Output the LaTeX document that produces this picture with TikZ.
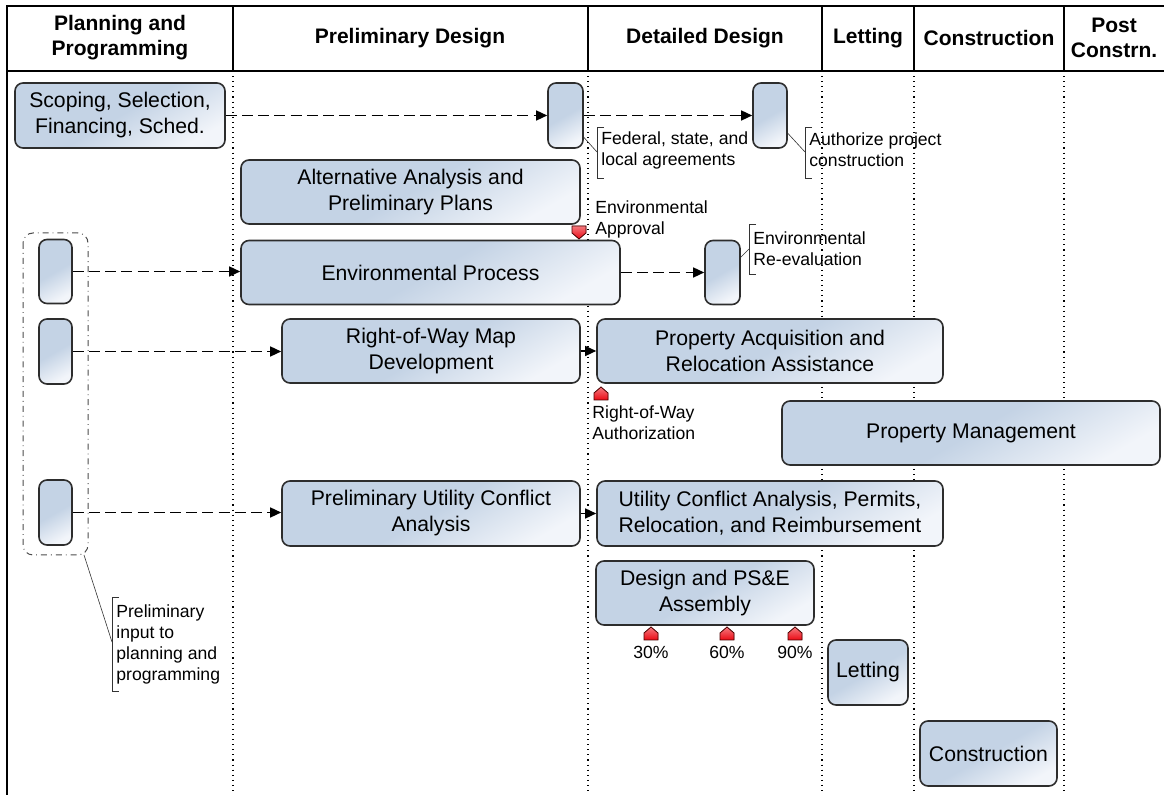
\documentclass[tikz,border=0pt]{standalone}
\usepackage{fontspec}
\setmainfont{Liberation Sans}
\usetikzlibrary{arrows.meta}

\definecolor{boxblue}{RGB}{196,211,229}
\definecolor{boxlight}{RGB}{242,245,250}
\definecolor{boxline}{RGB}{45,45,45}
\definecolor{msred}{RGB}{235,10,20}

\tikzset{
  stage/.style={draw=boxline, line width=0.8pt, rounded corners=4pt,
    top color=boxblue, bottom color=boxlight, middle color=boxblue,
    shading angle=30, inner sep=0pt, align=center,
    font=\fontsize{10.6}{13}\selectfont},
  head/.style={align=center, font=\fontsize{10.5}{12.5}\selectfont\bfseries},
  note/.style={align=left, inner sep=1pt, font=\fontsize{8.8}{10.5}\selectfont},
  flow/.style={-{Triangle[length=5.5pt,width=5pt]}, dash pattern=on 5.5pt off 2.6pt, line width=0.7pt},
  link/.style={-{Triangle[length=5.5pt,width=5pt]}, line width=0.7pt},
  leader/.style={line width=0.3pt, draw=black!80},
  msmark/.style={draw=red!30!black, line width=0.4pt, top color=msred!55!white, bottom color=msred},
  msup/.pic={\filldraw[msmark] (-7,0) -- (-7,-7) -- (0,-13) -- (7,-7) -- (7,0) -- cycle;},
  msdown/.pic={\filldraw[msmark] (-7,0) -- (-7,7) -- (0,13) -- (7,7) -- (7,0) -- cycle;}
}

\begin{document}
\begin{tikzpicture}[x=0.5pt, y=-0.5pt]
  \useasboundingbox (0,0) rectangle (1164,795);

  % frame and phase columns
  \draw[line width=1.25pt] (7,795) -- (7,6) -- (1164,6);
  \draw[line width=0.8pt] (7,71) -- (1164,71);
  \foreach \x in {233,588,822,914,1064} {
    \draw[line width=0.65pt] (\x,6) -- (\x,71);
    \draw[dotted, line width=0.55pt] (\x,71) -- (\x,795);
  }
  \node[head] (hplan) at (120,38) {Planning and\\Programming};
  \node[head] (hprel) at (410,38) {Preliminary Design};
  \node[head] (hdet) at (705,38) {Detailed Design};
  \node[head] (hlet) at (868,38) {Letting};
  \node[head] (hcon) at (989,38) {Construction};
  \node[head] (hpost) at (1114,38) {Post\\Constrn.};

  % activities
  \node[stage, minimum width=105pt, minimum height=32.5pt] (scoping) at (120,115.5) {Scoping, Selection,\\Financing, Sched.};
  \node[stage, minimum width=17.5pt, minimum height=32.5pt] (agree) at (565.5,115.5) {};
  \node[stage, minimum width=17pt, minimum height=32.5pt] (authz) at (770,115.5) {};
  \node[stage, minimum width=169.5pt, minimum height=32pt] (altern) at (410.5,192) {Alternative Analysis and\\Preliminary Plans};
  \node[stage, minimum width=189.5pt, minimum height=32pt] (envproc) at (430.5,272.5) {Environmental Process};
  \node[stage, minimum width=17.5pt, minimum height=32pt] (reeval) at (722.5,272.5) {};
  \draw[dash dot, line width=0.5pt, draw=black!70, rounded corners=5pt] (23,233) rectangle (88,555);
  \coordinate (group) at (84,555);
  \node[stage, minimum width=16.5pt, minimum height=32pt] (pa) at (55.5,271.5) {};
  \node[stage, minimum width=16.5pt, minimum height=32.5pt] (pb) at (55.5,351.5) {};
  \node[stage, minimum width=16.5pt, minimum height=32.5pt] (pc) at (55.5,512.5) {};
  \node[stage, minimum width=149pt, minimum height=32pt] (rowmap) at (431,351) {Right-of-Way Map\\Development};
  \node[stage, minimum width=173pt, minimum height=32pt] (propacq) at (770,351) {Property Acquisition and\\Relocation Assistance};
  \node[stage, minimum width=189pt, minimum height=32pt] (propmgmt) at (971,433) {Property Management};
  \node[stage, minimum width=149pt, minimum height=32.5pt] (puc) at (431,513.5) {Preliminary Utility Conflict\\Analysis};
  \node[stage, minimum width=173pt, minimum height=32.5pt] (ucap) at (770,513.5) {Utility Conflict Analysis, Permits,\\Relocation, and Reimbursement};
  \node[stage, minimum width=109pt, minimum height=32pt] (design) at (705,593) {Design and PS\&E\\Assembly};
  \node[stage, minimum width=40pt, minimum height=32.5pt] (letting) at (868,672.5) {Letting};
  \node[stage, minimum width=68.5pt, minimum height=32.5pt] (constr) at (988.5,753.5) {Construction};

  % connectors
  \draw[flow] (scoping) -- (agree);
  \draw[flow] (agree) -- (authz);
  \draw[flow] (envproc) -- (reeval);
  \draw[flow] (pa.east) -- (pa.east -| envproc.west);
  \draw[flow] (pb) -- (pb -| rowmap.west);
  \draw[flow] (pc) -- (pc -| puc.west);
  \draw[link] (rowmap) -- (propacq);
  \draw[link] (puc) -- (ucap);

  % milestones
  \pic at (579,226) {msdown};
  \pic at (601,400) {msup};
  \foreach \x/\p in {651/30,727/60,795/90} {
    \pic at (\x,640) {msup};
    \node[note, anchor=center] (pct\p) at (\x,652) {\p\%};
  }
  \node[note, anchor=west] (envapp) at (593,219) {Environmental\\Approval};
  \node[note, anchor=west] (rowauth) at (590,423) {Right-of-Way\\Authorization};

  % callouts
  \coordinate (agreeb) at (597,152);
  \draw[leader] (604,127) -- (597,127) -- (597,178) -- (604,178);
  \draw[leader] (agree.-50) -- (agreeb);
  \node[note, anchor=west] (agreetxt) at (599,150) {Federal, state, and\\local agreements};
  \coordinate (authzb) at (805,152);
  \draw[leader] (812,127) -- (805,127) -- (805,178) -- (812,178);
  \draw[leader] (authz.-45) -- (authzb);
  \node[note, anchor=west] (authztxt) at (807,150) {Authorize project\\construction};
  \coordinate (reevalb) at (749,249);
  \draw[leader] (756,224) -- (749,224) -- (749,274) -- (756,274);
  \draw[leader] (reeval.40) -- (reevalb);
  \node[note, anchor=west] (reevaltxt) at (751,249) {Environmental\\Re-evaluation};
  \coordinate (prelimb) at (112,642);
  \draw[leader] (119,597) -- (112,597) -- (112,691) -- (119,691);
  \draw[leader] (group) -- (prelimb);
  \node[note, anchor=west] (prelimtxt) at (114,644) {Preliminary\\input to\\planning and\\programming};
\end{tikzpicture}
\end{document}
